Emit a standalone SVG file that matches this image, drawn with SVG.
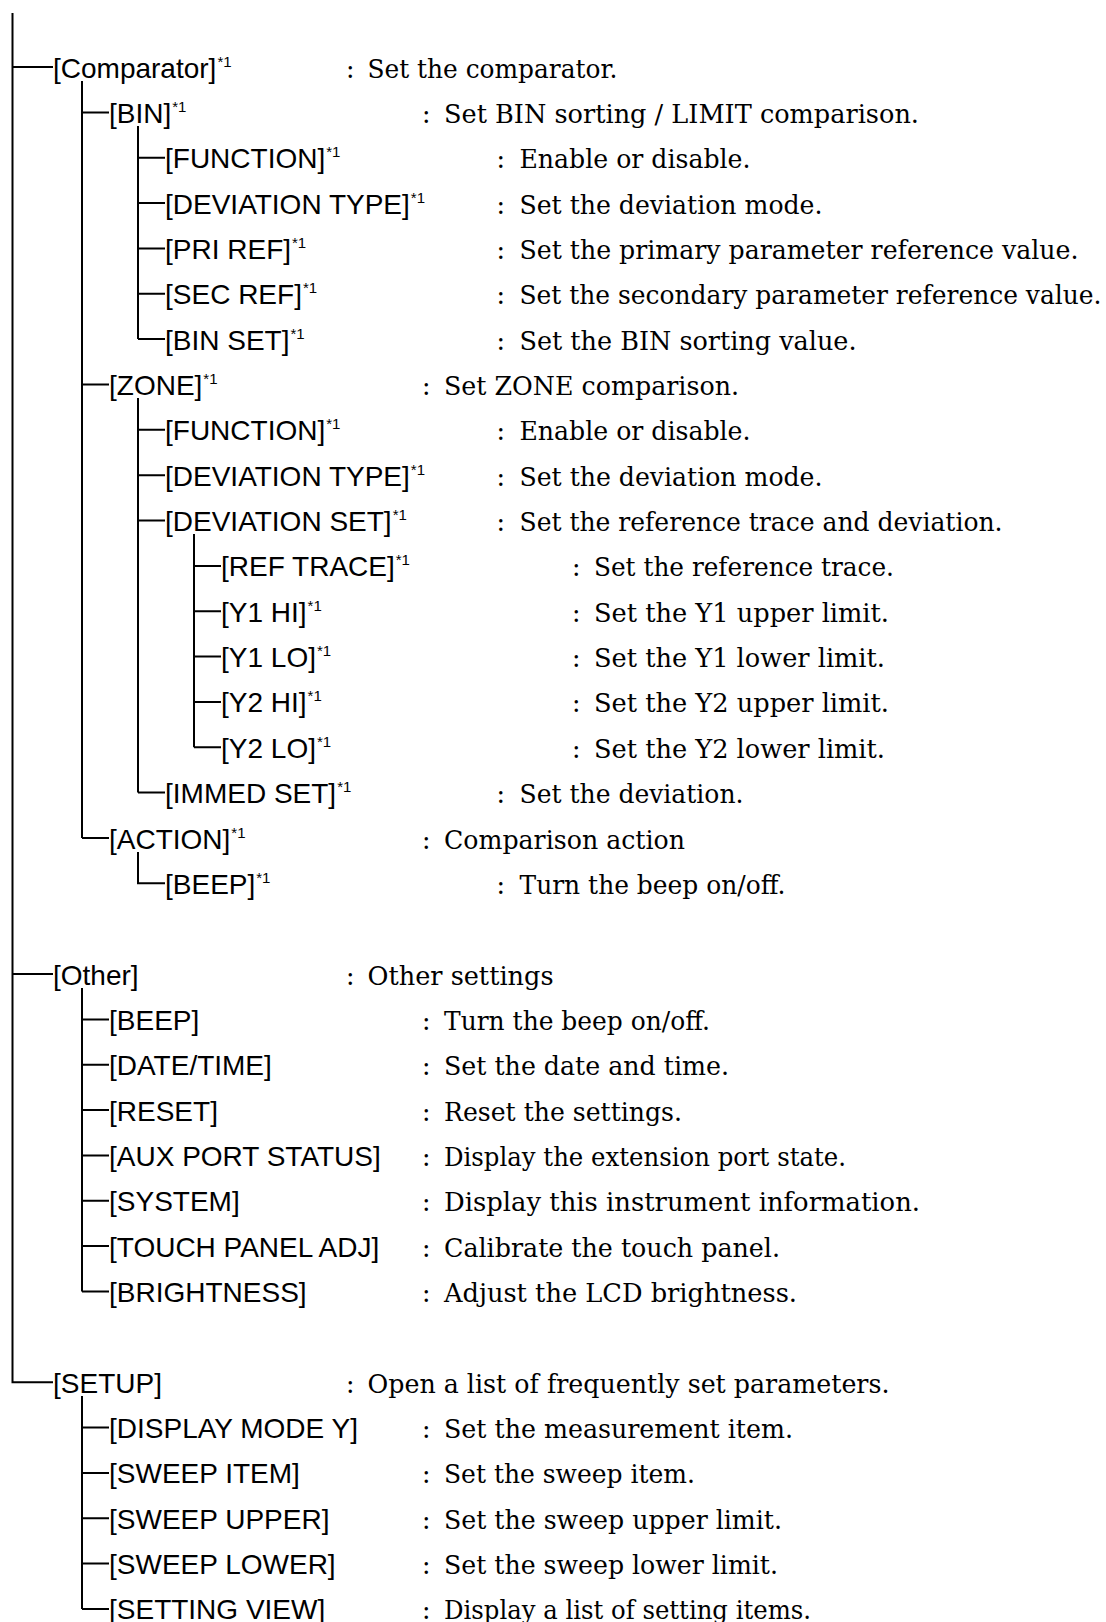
<svg xmlns="http://www.w3.org/2000/svg" width="1106" height="1622" viewBox="0 0 1106 1622">
<style>
.lbl{font-family:"Liberation Sans",Arial,sans-serif;font-size:28px;fill:#000}
.sup{font-size:15px}
.desc{font-family:"DejaVu Serif","Liberation Serif",serif;font-size:25.3px;fill:#000}
.con{stroke:#000;stroke-width:2;fill:none}
</style>
<rect width="1106" height="1622" fill="#fff"/>
<g id="connectors" class="con">
<path d="M12.5 13 V1382.2 H53 M12.5 67 H53 M12.5 974 H53"/>
<path d="M82 81 V838 M82 112.4 H109 M82 384.5 H109 M82 838 H109"/>
<path d="M138 126 V339.1 M138 157.7 H165 M138 203.1 H165 M138 248.4 H165 M138 293.8 H165 M138 339.1 H165"/>
<path d="M138 398 V792.6 M138 429.8 H165 M138 475.2 H165 M138 520.5 H165 M138 792.6 H165"/>
<path d="M194 534 V747.3 M194 565.9 H221 M194 611.2 H221 M194 656.6 H221 M194 701.9 H221 M194 747.3 H221"/>
<path d="M138 852 V883.3 H165"/>
<path d="M82 988 V1291.5 M82 1019.4 H109 M82 1064.7 H109 M82 1110.1 H109 M82 1155.4 H109 M82 1200.8 H109 M82 1246.1 H109 M82 1291.5 H109"/>
<path d="M82 1396 V1608.9 M82 1427.5 H109 M82 1472.9 H109 M82 1518.2 H109 M82 1563.6 H109 M82 1608.9 H109"/>
</g>
<g id="n-comparator"><text class="lbl" x="53" y="77.5">[Comparator]<tspan class="sup" dx="1" dy="-11">*1</tspan></text><text class="desc" x="346" y="77.5">:<tspan x="367.5" textLength="250" lengthAdjust="spacingAndGlyphs">Set the comparator.</tspan></text></g>
<g id="n-bin"><text class="lbl" x="109" y="122.9">[BIN]<tspan class="sup" dx="1" dy="-11">*1</tspan></text><text class="desc" x="422" y="122.9">:<tspan x="444" textLength="475" lengthAdjust="spacingAndGlyphs">Set BIN sorting / LIMIT comparison.</tspan></text></g>
<g id="n-bin-function"><text class="lbl" x="165" y="168.2">[FUNCTION]<tspan class="sup" dx="1" dy="-11">*1</tspan></text><text class="desc" x="496.5" y="168.2">:<tspan x="519.5" textLength="231" lengthAdjust="spacingAndGlyphs">Enable or disable.</tspan></text></g>
<g id="n-bin-devtype"><text class="lbl" x="165" y="213.6">[DEVIATION TYPE]<tspan class="sup" dx="1" dy="-11">*1</tspan></text><text class="desc" x="496.5" y="213.6">:<tspan x="519.5" textLength="303" lengthAdjust="spacingAndGlyphs">Set the deviation mode.</tspan></text></g>
<g id="n-priref"><text class="lbl" x="165" y="258.9">[PRI REF]<tspan class="sup" dx="1" dy="-11">*1</tspan></text><text class="desc" x="496.5" y="258.9">:<tspan x="519.5" textLength="559" lengthAdjust="spacingAndGlyphs">Set the primary parameter reference value.</tspan></text></g>
<g id="n-secref"><text class="lbl" x="165" y="304.3">[SEC REF]<tspan class="sup" dx="1" dy="-11">*1</tspan></text><text class="desc" x="496.5" y="304.3">:<tspan x="519.5" textLength="582" lengthAdjust="spacingAndGlyphs">Set the secondary parameter reference value.</tspan></text></g>
<g id="n-binset"><text class="lbl" x="165" y="349.6">[BIN SET]<tspan class="sup" dx="1" dy="-11">*1</tspan></text><text class="desc" x="496.5" y="349.6">:<tspan x="519.5" textLength="337" lengthAdjust="spacingAndGlyphs">Set the BIN sorting value.</tspan></text></g>
<g id="n-zone"><text class="lbl" x="109" y="395">[ZONE]<tspan class="sup" dx="1" dy="-11">*1</tspan></text><text class="desc" x="422" y="395">:<tspan x="444" textLength="295" lengthAdjust="spacingAndGlyphs">Set ZONE comparison.</tspan></text></g>
<g id="n-zone-function"><text class="lbl" x="165" y="440.3">[FUNCTION]<tspan class="sup" dx="1" dy="-11">*1</tspan></text><text class="desc" x="496.5" y="440.3">:<tspan x="519.5" textLength="231" lengthAdjust="spacingAndGlyphs">Enable or disable.</tspan></text></g>
<g id="n-zone-devtype"><text class="lbl" x="165" y="485.7">[DEVIATION TYPE]<tspan class="sup" dx="1" dy="-11">*1</tspan></text><text class="desc" x="496.5" y="485.7">:<tspan x="519.5" textLength="303" lengthAdjust="spacingAndGlyphs">Set the deviation mode.</tspan></text></g>
<g id="n-devset"><text class="lbl" x="165" y="531">[DEVIATION SET]<tspan class="sup" dx="1" dy="-11">*1</tspan></text><text class="desc" x="496.5" y="531">:<tspan x="519.5" textLength="483" lengthAdjust="spacingAndGlyphs">Set the reference trace and deviation.</tspan></text></g>
<g id="n-reftrace"><text class="lbl" x="221" y="576.4">[REF TRACE]<tspan class="sup" dx="1" dy="-11">*1</tspan></text><text class="desc" x="572" y="576.4">:<tspan x="594" textLength="300" lengthAdjust="spacingAndGlyphs">Set the reference trace.</tspan></text></g>
<g id="n-y1hi"><text class="lbl" x="221" y="621.7">[Y1 HI]<tspan class="sup" dx="1" dy="-11">*1</tspan></text><text class="desc" x="572" y="621.7">:<tspan x="594" textLength="295" lengthAdjust="spacingAndGlyphs">Set the Y1 upper limit.</tspan></text></g>
<g id="n-y1lo"><text class="lbl" x="221" y="667.1">[Y1 LO]<tspan class="sup" dx="1" dy="-11">*1</tspan></text><text class="desc" x="572" y="667.1">:<tspan x="594" textLength="291" lengthAdjust="spacingAndGlyphs">Set the Y1 lower limit.</tspan></text></g>
<g id="n-y2hi"><text class="lbl" x="221" y="712.4">[Y2 HI]<tspan class="sup" dx="1" dy="-11">*1</tspan></text><text class="desc" x="572" y="712.4">:<tspan x="594" textLength="295" lengthAdjust="spacingAndGlyphs">Set the Y2 upper limit.</tspan></text></g>
<g id="n-y2lo"><text class="lbl" x="221" y="757.8">[Y2 LO]<tspan class="sup" dx="1" dy="-11">*1</tspan></text><text class="desc" x="572" y="757.8">:<tspan x="594" textLength="291" lengthAdjust="spacingAndGlyphs">Set the Y2 lower limit.</tspan></text></g>
<g id="n-immedset"><text class="lbl" x="165" y="803.1">[IMMED SET]<tspan class="sup" dx="1" dy="-11">*1</tspan></text><text class="desc" x="496.5" y="803.1">:<tspan x="519.5" textLength="224" lengthAdjust="spacingAndGlyphs">Set the deviation.</tspan></text></g>
<g id="n-action"><text class="lbl" x="109" y="848.5">[ACTION]<tspan class="sup" dx="1" dy="-11">*1</tspan></text><text class="desc" x="422" y="848.5">:<tspan x="444" textLength="241" lengthAdjust="spacingAndGlyphs">Comparison action</tspan></text></g>
<g id="n-action-beep"><text class="lbl" x="165" y="893.8">[BEEP]<tspan class="sup" dx="1" dy="-11">*1</tspan></text><text class="desc" x="496.5" y="893.8">:<tspan x="519.5" textLength="266" lengthAdjust="spacingAndGlyphs">Turn the beep on/off.</tspan></text></g>
<g id="n-other"><text class="lbl" x="53" y="984.5">[Other]</text><text class="desc" x="346" y="984.5">:<tspan x="367.5" textLength="186" lengthAdjust="spacingAndGlyphs">Other settings</tspan></text></g>
<g id="n-beep"><text class="lbl" x="109" y="1029.9">[BEEP]</text><text class="desc" x="422" y="1029.9">:<tspan x="444" textLength="266" lengthAdjust="spacingAndGlyphs">Turn the beep on/off.</tspan></text></g>
<g id="n-datetime"><text class="lbl" x="109" y="1075.2">[DATE/TIME]</text><text class="desc" x="422" y="1075.2">:<tspan x="444" textLength="285" lengthAdjust="spacingAndGlyphs">Set the date and time.</tspan></text></g>
<g id="n-reset"><text class="lbl" x="109" y="1120.6">[RESET]</text><text class="desc" x="422" y="1120.6">:<tspan x="444" textLength="238" lengthAdjust="spacingAndGlyphs">Reset the settings.</tspan></text></g>
<g id="n-aux"><text class="lbl" x="109" y="1165.9">[AUX PORT STATUS]</text><text class="desc" x="422" y="1165.9">:<tspan x="444" textLength="402" lengthAdjust="spacingAndGlyphs">Display the extension port state.</tspan></text></g>
<g id="n-system"><text class="lbl" x="109" y="1211.3">[SYSTEM]</text><text class="desc" x="422" y="1211.3">:<tspan x="444" textLength="476" lengthAdjust="spacingAndGlyphs">Display this instrument information.</tspan></text></g>
<g id="n-touch"><text class="lbl" x="109" y="1256.6">[TOUCH PANEL ADJ]</text><text class="desc" x="422" y="1256.6">:<tspan x="444" textLength="336" lengthAdjust="spacingAndGlyphs">Calibrate the touch panel.</tspan></text></g>
<g id="n-brightness"><text class="lbl" x="109" y="1302">[BRIGHTNESS]</text><text class="desc" x="422" y="1302">:<tspan x="444" textLength="353" lengthAdjust="spacingAndGlyphs">Adjust the LCD brightness.</tspan></text></g>
<g id="n-setup"><text class="lbl" x="53" y="1392.7">[SETUP]</text><text class="desc" x="346" y="1392.7">:<tspan x="367.5" textLength="522" lengthAdjust="spacingAndGlyphs">Open a list of frequently set parameters.</tspan></text></g>
<g id="n-dispmode"><text class="lbl" x="109" y="1438">[DISPLAY MODE Y]</text><text class="desc" x="422" y="1438">:<tspan x="444" textLength="349" lengthAdjust="spacingAndGlyphs">Set the measurement item.</tspan></text></g>
<g id="n-sweepitem"><text class="lbl" x="109" y="1483.4">[SWEEP ITEM]</text><text class="desc" x="422" y="1483.4">:<tspan x="444" textLength="251" lengthAdjust="spacingAndGlyphs">Set the sweep item.</tspan></text></g>
<g id="n-sweepupper"><text class="lbl" x="109" y="1528.7">[SWEEP UPPER]</text><text class="desc" x="422" y="1528.7">:<tspan x="444" textLength="338" lengthAdjust="spacingAndGlyphs">Set the sweep upper limit.</tspan></text></g>
<g id="n-sweeplower"><text class="lbl" x="109" y="1574.1">[SWEEP LOWER]</text><text class="desc" x="422" y="1574.1">:<tspan x="444" textLength="334" lengthAdjust="spacingAndGlyphs">Set the sweep lower limit.</tspan></text></g>
<g id="n-settingview"><text class="lbl" x="109" y="1619.4">[SETTING VIEW]</text><text class="desc" x="422" y="1619.4">:<tspan x="444" textLength="367" lengthAdjust="spacingAndGlyphs">Display a list of setting items.</tspan></text></g>
</svg>
